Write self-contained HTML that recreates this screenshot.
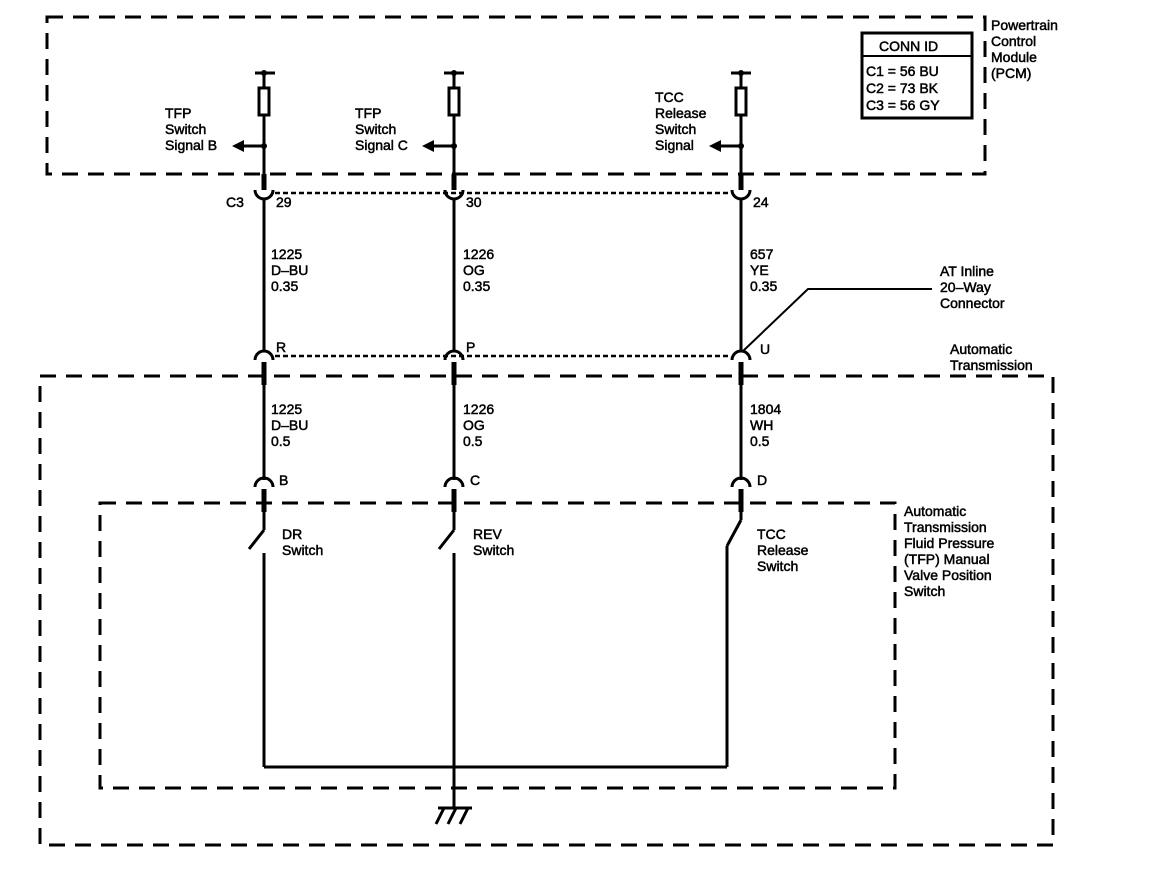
<!DOCTYPE html>
<html><head><meta charset="utf-8"><style>
body{margin:0;background:#fff}
svg{display:block}
text{font-family:"Liberation Sans",Arial,sans-serif;font-size:14px;fill:#000;stroke:#000;stroke-width:0.5}
</style></head><body>
<svg width="1152" height="872" viewBox="0 0 1152 872" xmlns="http://www.w3.org/2000/svg">
<g fill="none" stroke="#000">
<rect x="47" y="17" width="938" height="157" stroke-width="3" stroke-dasharray="16,10"/>
<rect x="40" y="376" width="1013" height="469" stroke-width="3" stroke-dasharray="16,10"/>
<rect x="100" y="503" width="795" height="285" stroke-width="3" stroke-dasharray="16,10"/>
<rect x="862" y="33" width="110" height="85" stroke-width="3"/>
<line x1="862" y1="56" x2="972" y2="56" stroke-width="2"/>
<line x1="275" y1="193" x2="730" y2="193" stroke-width="2.5" stroke-dasharray="5,3"/>
<line x1="275" y1="356" x2="730" y2="356" stroke-width="2.5" stroke-dasharray="5,3"/>
</g>
<g fill="none" stroke="#000" stroke-width="3">
<line x1="255" y1="73" x2="275" y2="73"/>
<line x1="264" y1="73" x2="264" y2="88"/>
<rect x="259" y="88" width="10" height="27"/>
<line x1="264" y1="115" x2="264" y2="175"/>
<line x1="264" y1="174" x2="264" y2="190" stroke-width="5"/>
<path d="M255,190 A9,9 0 0 0 273,190"/>
<line x1="264" y1="198" x2="264" y2="350"/>
<path d="M255,360 A9,9 0 0 1 273,360"/>
<line x1="264" y1="362" x2="264" y2="385" stroke-width="5"/>
<line x1="264" y1="385" x2="264" y2="480"/>
<path d="M255,487 A9,9 0 0 1 273,487"/>
<line x1="264" y1="489" x2="264" y2="512" stroke-width="5"/>
<line x1="264" y1="512" x2="264" y2="530"/>
<line x1="264" y1="530" x2="249" y2="549"/>
<line x1="264" y1="553" x2="264" y2="767"/>
<line x1="444" y1="73" x2="464" y2="73"/>
<line x1="454" y1="73" x2="454" y2="88"/>
<rect x="449" y="88" width="10" height="27"/>
<line x1="454" y1="115" x2="454" y2="175"/>
<line x1="454" y1="174" x2="454" y2="190" stroke-width="5"/>
<path d="M445,190 A9,9 0 0 0 463,190"/>
<line x1="454" y1="198" x2="454" y2="350"/>
<path d="M445,360 A9,9 0 0 1 463,360"/>
<line x1="454" y1="362" x2="454" y2="385" stroke-width="5"/>
<line x1="454" y1="385" x2="454" y2="480"/>
<path d="M445,487 A9,9 0 0 1 463,487"/>
<line x1="454" y1="489" x2="454" y2="512" stroke-width="5"/>
<line x1="454" y1="512" x2="454" y2="530"/>
<line x1="454" y1="530" x2="439" y2="549"/>
<line x1="454" y1="553" x2="454" y2="808"/>
<line x1="731" y1="73" x2="751" y2="73"/>
<line x1="741" y1="73" x2="741" y2="88"/>
<rect x="736" y="88" width="10" height="27"/>
<line x1="741" y1="115" x2="741" y2="175"/>
<line x1="741" y1="174" x2="741" y2="190" stroke-width="5"/>
<path d="M732,190 A9,9 0 0 0 750,190"/>
<line x1="741" y1="198" x2="741" y2="350"/>
<path d="M732,360 A9,9 0 0 1 750,360"/>
<line x1="741" y1="362" x2="741" y2="385" stroke-width="5"/>
<line x1="741" y1="385" x2="741" y2="480"/>
<path d="M732,487 A9,9 0 0 1 750,487"/>
<line x1="741" y1="489" x2="741" y2="512" stroke-width="5"/>
<line x1="741" y1="512" x2="741" y2="520"/>
<line x1="741" y1="520" x2="727" y2="546"/>
<line x1="727" y1="546" x2="727" y2="767"/>
<line x1="264" y1="767" x2="727" y2="767"/>
<line x1="438" y1="808" x2="472" y2="808"/>
<line x1="444" y1="808" x2="436" y2="824"/>
<line x1="456" y1="808" x2="448" y2="824"/>
<line x1="468" y1="808" x2="460" y2="824"/>
<line x1="243" y1="146" x2="264" y2="146"/>
<line x1="433" y1="146" x2="454" y2="146"/>
<line x1="720" y1="146" x2="741" y2="146"/>
<polyline points="742,352 808,289 932,289" stroke-width="2"/>
</g>
<g fill="#000">
<circle cx="264" cy="73" r="3"/><circle cx="454" cy="73" r="3"/><circle cx="741" cy="73" r="3"/>
<circle cx="264" cy="146" r="3"/><circle cx="454" cy="146" r="3"/><circle cx="741" cy="146" r="3"/>
<polygon points="232,146 244,140 244,152"/>
<polygon points="422,146 434,140 434,152"/>
<polygon points="709,146 721,140 721,152"/>
</g>
<g>
<text x="165" y="118">TFP</text><text x="165" y="134">Switch</text><text x="165" y="150">Signal B</text>
<text x="355" y="118">TFP</text><text x="355" y="134">Switch</text><text x="355" y="150">Signal C</text>
<text x="655" y="102">TCC</text><text x="655" y="118">Release</text><text x="655" y="134">Switch</text><text x="655" y="150">Signal</text>
<text x="879" y="51" font-size="15">CONN ID</text>
<text x="866" y="76" font-size="15">C1 = 56 BU</text>
<text x="866" y="93" font-size="15">C2 = 73 BK</text>
<text x="866" y="110" font-size="15">C3 = 56 GY</text>
<text x="991" y="30">Powertrain</text><text x="991" y="46">Control</text><text x="991" y="62">Module</text><text x="991" y="78">(PCM)</text>
<text x="226" y="207">C3</text><text x="276" y="207">29</text><text x="466" y="207">30</text><text x="753" y="207">24</text>
<text x="271" y="259">1225</text><text x="271" y="275">D–BU</text><text x="271" y="291">0.35</text>
<text x="463" y="259">1226</text><text x="463" y="275">OG</text><text x="463" y="291">0.35</text>
<text x="750" y="259">657</text><text x="750" y="275">YE</text><text x="750" y="291">0.35</text>
<text x="940" y="276">AT Inline</text><text x="940" y="292">20–Way</text><text x="940" y="308">Connector</text>
<text x="276" y="352">R</text><text x="466" y="352">P</text><text x="760" y="354">U</text>
<text x="950" y="354">Automatic</text><text x="950" y="370">Transmission</text>
<text x="271" y="414">1225</text><text x="271" y="430">D–BU</text><text x="271" y="446">0.5</text>
<text x="463" y="414">1226</text><text x="463" y="430">OG</text><text x="463" y="446">0.5</text>
<text x="750" y="414">1804</text><text x="750" y="430">WH</text><text x="750" y="446">0.5</text>
<text x="279" y="485">B</text><text x="470" y="485">C</text><text x="757" y="485">D</text>
<text x="282" y="539">DR</text><text x="282" y="555">Switch</text>
<text x="473" y="539">REV</text><text x="473" y="555">Switch</text>
<text x="757" y="539">TCC</text><text x="757" y="555">Release</text><text x="757" y="571">Switch</text>
<text x="904" y="516">Automatic</text><text x="904" y="532">Transmission</text><text x="904" y="548">Fluid Pressure</text><text x="904" y="564">(TFP) Manual</text><text x="904" y="580">Valve Position</text><text x="904" y="596">Switch</text>
</g>
</svg>
</body></html>
